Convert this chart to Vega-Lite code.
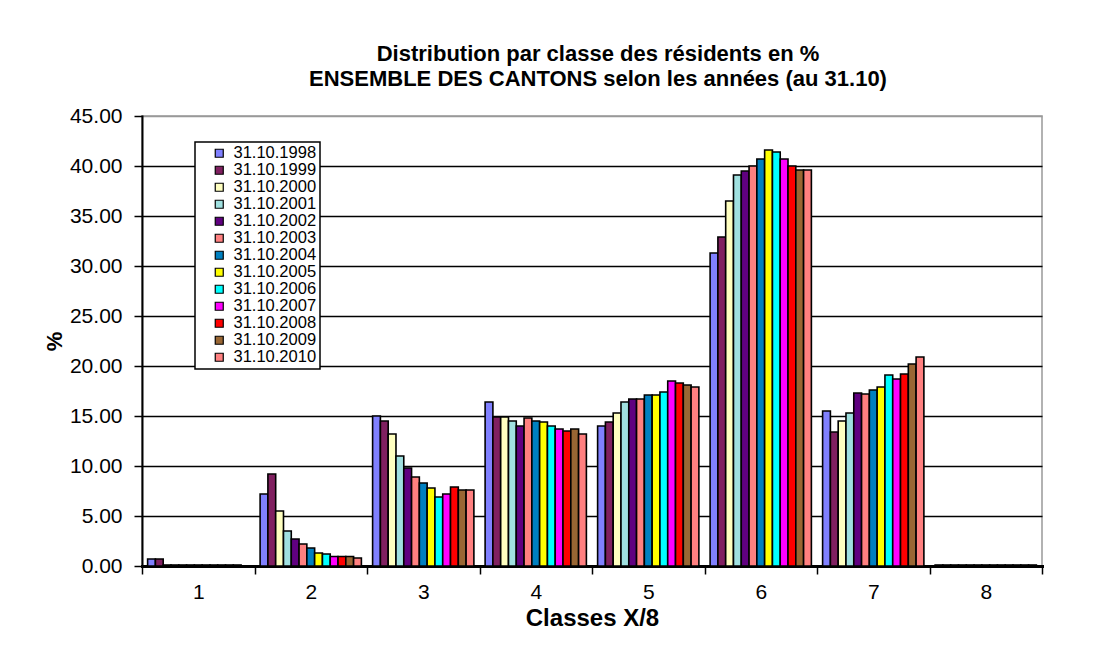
{
  "$schema": "https://vega.github.io/schema/vega-lite/v6.json",
  "autosize": {"type": "none"},
  "padding": {"left": 142, "top": 116, "right": 60, "bottom": 94},
  "width": 900,
  "height": 450,
  "background": "white",
  "title": {
    "text": ["Distribution par classe des résidents en %", "ENSEMBLE DES CANTONS selon les années (au 31.10)"],
    "font": "Liberation Sans",
    "fontSize": 22,
    "fontWeight": "bold",
    "lineHeight": 25,
    "color": "black",
    "anchor": "middle",
    "offset": 14,
    "dx": 6
  },
  "data": {
    "values": [
      {"classe": "1", "annee": "31.10.1998", "pct": 0.7},
      {"classe": "1", "annee": "31.10.1999", "pct": 0.7},
      {"classe": "1", "annee": "31.10.2000", "pct": 0.1},
      {"classe": "1", "annee": "31.10.2001", "pct": 0.1},
      {"classe": "1", "annee": "31.10.2002", "pct": 0.1},
      {"classe": "1", "annee": "31.10.2003", "pct": 0.1},
      {"classe": "1", "annee": "31.10.2004", "pct": 0.1},
      {"classe": "1", "annee": "31.10.2005", "pct": 0.1},
      {"classe": "1", "annee": "31.10.2006", "pct": 0.1},
      {"classe": "1", "annee": "31.10.2007", "pct": 0.1},
      {"classe": "1", "annee": "31.10.2008", "pct": 0.1},
      {"classe": "1", "annee": "31.10.2009", "pct": 0.1},
      {"classe": "1", "annee": "31.10.2010", "pct": 0},
      {"classe": "2", "annee": "31.10.1998", "pct": 7.2},
      {"classe": "2", "annee": "31.10.1999", "pct": 9.2},
      {"classe": "2", "annee": "31.10.2000", "pct": 5.5},
      {"classe": "2", "annee": "31.10.2001", "pct": 3.5},
      {"classe": "2", "annee": "31.10.2002", "pct": 2.7},
      {"classe": "2", "annee": "31.10.2003", "pct": 2.2},
      {"classe": "2", "annee": "31.10.2004", "pct": 1.8},
      {"classe": "2", "annee": "31.10.2005", "pct": 1.3},
      {"classe": "2", "annee": "31.10.2006", "pct": 1.2},
      {"classe": "2", "annee": "31.10.2007", "pct": 0.95},
      {"classe": "2", "annee": "31.10.2008", "pct": 0.95},
      {"classe": "2", "annee": "31.10.2009", "pct": 0.95},
      {"classe": "2", "annee": "31.10.2010", "pct": 0.8},
      {"classe": "3", "annee": "31.10.1998", "pct": 15.0},
      {"classe": "3", "annee": "31.10.1999", "pct": 14.5},
      {"classe": "3", "annee": "31.10.2000", "pct": 13.2},
      {"classe": "3", "annee": "31.10.2001", "pct": 11.0},
      {"classe": "3", "annee": "31.10.2002", "pct": 9.8},
      {"classe": "3", "annee": "31.10.2003", "pct": 8.9},
      {"classe": "3", "annee": "31.10.2004", "pct": 8.3},
      {"classe": "3", "annee": "31.10.2005", "pct": 7.8},
      {"classe": "3", "annee": "31.10.2006", "pct": 6.9},
      {"classe": "3", "annee": "31.10.2007", "pct": 7.2},
      {"classe": "3", "annee": "31.10.2008", "pct": 7.9},
      {"classe": "3", "annee": "31.10.2009", "pct": 7.6},
      {"classe": "3", "annee": "31.10.2010", "pct": 7.6},
      {"classe": "4", "annee": "31.10.1998", "pct": 16.4},
      {"classe": "4", "annee": "31.10.1999", "pct": 14.9},
      {"classe": "4", "annee": "31.10.2000", "pct": 14.9},
      {"classe": "4", "annee": "31.10.2001", "pct": 14.5},
      {"classe": "4", "annee": "31.10.2002", "pct": 14.0},
      {"classe": "4", "annee": "31.10.2003", "pct": 14.8},
      {"classe": "4", "annee": "31.10.2004", "pct": 14.5},
      {"classe": "4", "annee": "31.10.2005", "pct": 14.4},
      {"classe": "4", "annee": "31.10.2006", "pct": 14.0},
      {"classe": "4", "annee": "31.10.2007", "pct": 13.7},
      {"classe": "4", "annee": "31.10.2008", "pct": 13.5},
      {"classe": "4", "annee": "31.10.2009", "pct": 13.7},
      {"classe": "4", "annee": "31.10.2010", "pct": 13.2},
      {"classe": "5", "annee": "31.10.1998", "pct": 14.0},
      {"classe": "5", "annee": "31.10.1999", "pct": 14.4},
      {"classe": "5", "annee": "31.10.2000", "pct": 15.3},
      {"classe": "5", "annee": "31.10.2001", "pct": 16.4},
      {"classe": "5", "annee": "31.10.2002", "pct": 16.7},
      {"classe": "5", "annee": "31.10.2003", "pct": 16.7},
      {"classe": "5", "annee": "31.10.2004", "pct": 17.1},
      {"classe": "5", "annee": "31.10.2005", "pct": 17.1},
      {"classe": "5", "annee": "31.10.2006", "pct": 17.4},
      {"classe": "5", "annee": "31.10.2007", "pct": 18.5},
      {"classe": "5", "annee": "31.10.2008", "pct": 18.3},
      {"classe": "5", "annee": "31.10.2009", "pct": 18.1},
      {"classe": "5", "annee": "31.10.2010", "pct": 17.9},
      {"classe": "6", "annee": "31.10.1998", "pct": 31.3},
      {"classe": "6", "annee": "31.10.1999", "pct": 32.9},
      {"classe": "6", "annee": "31.10.2000", "pct": 36.5},
      {"classe": "6", "annee": "31.10.2001", "pct": 39.1},
      {"classe": "6", "annee": "31.10.2002", "pct": 39.5},
      {"classe": "6", "annee": "31.10.2003", "pct": 40.0},
      {"classe": "6", "annee": "31.10.2004", "pct": 40.7},
      {"classe": "6", "annee": "31.10.2005", "pct": 41.6},
      {"classe": "6", "annee": "31.10.2006", "pct": 41.4},
      {"classe": "6", "annee": "31.10.2007", "pct": 40.7},
      {"classe": "6", "annee": "31.10.2008", "pct": 40.0},
      {"classe": "6", "annee": "31.10.2009", "pct": 39.6},
      {"classe": "6", "annee": "31.10.2010", "pct": 39.6},
      {"classe": "7", "annee": "31.10.1998", "pct": 15.5},
      {"classe": "7", "annee": "31.10.1999", "pct": 13.4},
      {"classe": "7", "annee": "31.10.2000", "pct": 14.5},
      {"classe": "7", "annee": "31.10.2001", "pct": 15.3},
      {"classe": "7", "annee": "31.10.2002", "pct": 17.3},
      {"classe": "7", "annee": "31.10.2003", "pct": 17.2},
      {"classe": "7", "annee": "31.10.2004", "pct": 17.6},
      {"classe": "7", "annee": "31.10.2005", "pct": 17.9},
      {"classe": "7", "annee": "31.10.2006", "pct": 19.1},
      {"classe": "7", "annee": "31.10.2007", "pct": 18.7},
      {"classe": "7", "annee": "31.10.2008", "pct": 19.2},
      {"classe": "7", "annee": "31.10.2009", "pct": 20.2},
      {"classe": "7", "annee": "31.10.2010", "pct": 20.9},
      {"classe": "8", "annee": "31.10.1998", "pct": 0.1},
      {"classe": "8", "annee": "31.10.1999", "pct": 0.1},
      {"classe": "8", "annee": "31.10.2000", "pct": 0.1},
      {"classe": "8", "annee": "31.10.2001", "pct": 0.1},
      {"classe": "8", "annee": "31.10.2002", "pct": 0.1},
      {"classe": "8", "annee": "31.10.2003", "pct": 0.1},
      {"classe": "8", "annee": "31.10.2004", "pct": 0.1},
      {"classe": "8", "annee": "31.10.2005", "pct": 0.1},
      {"classe": "8", "annee": "31.10.2006", "pct": 0.1},
      {"classe": "8", "annee": "31.10.2007", "pct": 0.1},
      {"classe": "8", "annee": "31.10.2008", "pct": 0.1},
      {"classe": "8", "annee": "31.10.2009", "pct": 0.1},
      {"classe": "8", "annee": "31.10.2010", "pct": 0.1}
    ]
  },
  "mark": {"type": "bar", "stroke": "black", "strokeWidth": 1.6, "strokeJoin": "miter"},
  "encoding": {
    "x": {
      "field": "classe",
      "type": "nominal",
      "scale": {"paddingInner": 0, "paddingOuter": 0},
      "axis": {
        "title": "Classes X/8",
        "labelAngle": 0,
        "tickBand": "extent",
        "tickSize": 8,
        "tickColor": "black",
        "tickWidth": 1.5,
        "domainColor": "black",
        "domainWidth": 3,
        "labelPadding": 7,
        "labelFontSize": 21,
        "labelFont": "Liberation Sans",
        "labelColor": "black",
        "titleFont": "Liberation Sans",
        "titleFontSize": 24,
        "titleFontWeight": "bold",
        "titleColor": "black",
        "titlePadding": 4,
        "grid": false
      }
    },
    "xOffset": {
      "field": "annee",
      "type": "nominal",
      "scale": {"paddingInner": 0, "paddingOuter": 0.72}
    },
    "y": {
      "field": "pct",
      "type": "quantitative",
      "scale": {"domain": [0, 45], "nice": false},
      "axis": {
        "title": "%",
        "values": [0, 5, 10, 15, 20, 25, 30, 35, 40, 45],
        "format": ".2f",
        "tickSize": 8,
        "tickColor": "black",
        "tickWidth": 1.5,
        "domainColor": "black",
        "domainWidth": 2,
        "labelPadding": 12,
        "labelFontSize": 21,
        "labelFont": "Liberation Sans",
        "labelColor": "black",
        "titleFont": "Liberation Sans",
        "titleFontSize": 22,
        "titleFontWeight": "bold",
        "titleColor": "black",
        "titleX": -76,
        "titleY": 225,
        "grid": true,
        "gridColor": {"condition": {"test": "datum.value == 45", "value": "#999999"}, "value": "black"},
        "gridWidth": 1.5
      }
    },
    "fill": {
      "field": "annee",
      "type": "nominal",
      "scale": {
        "domain": ["31.10.1998", "31.10.1999", "31.10.2000", "31.10.2001", "31.10.2002", "31.10.2003", "31.10.2004", "31.10.2005", "31.10.2006", "31.10.2007", "31.10.2008", "31.10.2009", "31.10.2010"],
        "range": ["#8080FF", "#802060", "#FFFFC0", "#A0E0E0", "#600080", "#FF8080", "#0080C0", "#FFFF00", "#00FFFF", "#FF00FF", "#FF0000", "#996633", "#FF8080"]
      },
      "legend": {
        "title": null,
        "orient": "none",
        "legendX": 53,
        "legendY": 26,
        "symbolType": "square",
        "symbolSize": 64,
        "symbolStrokeColor": "black",
        "symbolStrokeWidth": 1.2,
        "labelFont": "Liberation Sans",
        "labelFontSize": 16.5,
        "labelColor": "black",
        "labelOffset": 6,
        "symbolOffset": 13,
        "rowPadding": 0,
        "padding": 3,
        "fillColor": "white",
        "strokeColor": "black"
      }
    }
  },
  "config": {
    "view": {"stroke": "#999999", "strokeWidth": 1.5},
    "axis": {"domainCap": "square"},
    "legend": {"strokeWidth": 1.5}
  }
}
